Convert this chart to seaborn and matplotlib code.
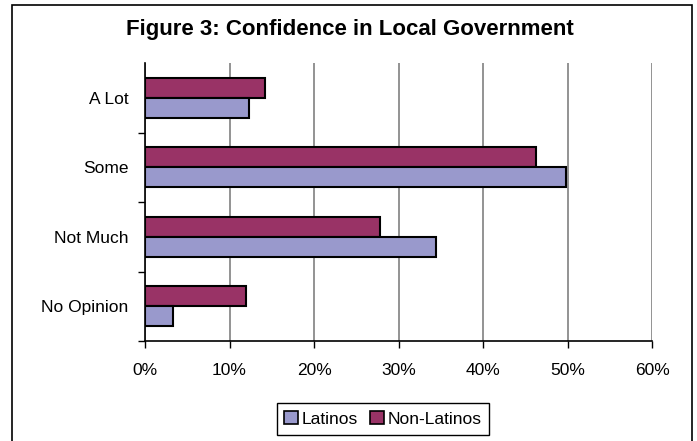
import matplotlib
matplotlib.use("Agg")
import matplotlib.pyplot as plt
from matplotlib.patches import Rectangle, Patch
from matplotlib.ticker import FixedLocator, PercentFormatter
import pandas as pd
import seaborn as sb

categories = ["A Lot", "Some", "Not Much", "No Opinion"]
latinos = [12.3, 49.8, 34.4, 3.3]
non_latinos = [14.2, 46.3, 27.8, 12.0]
groups = ["Non-Latinos", "Latinos"]
xticks = [0, 10, 20, 30, 40, 50, 60]

colors = {"Latinos": "#9999CC", "Non-Latinos": "#993366"}

sb.set_style("white")
plt.rcParams["font.family"] = ["Liberation Sans", "DejaVu Sans"]
plt.rcParams["text.color"] = "black"
plt.rcParams["xtick.labelcolor"] = "black"
plt.rcParams["ytick.labelcolor"] = "black"

df = pd.DataFrame({"category": categories * 2,
                   "group": ["Latinos"] * 4 + ["Non-Latinos"] * 4,
                   "pct": latinos + non_latinos})

fig = plt.figure(figsize=(6.97, 4.41), dpi=100)
ax = fig.add_axes([145 / 697, 1 - 341 / 441, (652 - 145) / 697, (341 - 63) / 441])

sb.barplot(data=df, x="pct", y="category", hue="group", order=categories,
           hue_order=groups, palette=colors, orient="h", width=0.575,
           saturation=1, edgecolor="black", linewidth=1.5, ax=ax)
ax.get_legend().remove()

ax.set_xlim(0, 60)
ax.set_ylim(3.5, -0.5)
ax.xaxis.set_major_locator(FixedLocator(xticks))
ax.xaxis.set_major_formatter(PercentFormatter(decimals=0))
ax.grid(axis="x", color="#808080", linewidth=1.2)
ax.set_axisbelow(True)
ax.set_xlabel("")
ax.set_ylabel("")

for s in ["top", "right"]:
    ax.spines[s].set_visible(False)
for s in ["left", "bottom"]:
    ax.spines[s].set_color("black")
    ax.spines[s].set_linewidth(1.2)

ax.yaxis.set_minor_locator(FixedLocator([0.5, 1.5, 2.5, 3.5]))
ax.tick_params(axis="y", which="major", length=0, pad=12, labelsize=12.5,
               labelcolor="black")
ax.tick_params(axis="y", which="minor", left=True, length=5, width=1, color="black")
ax.tick_params(axis="x", which="major", bottom=True, length=5, width=1, color="black",
               pad=10.5, labelsize=12.5, labelcolor="black")

fig.text(0.502, 0.932, "Figure 3: Confidence in Local Government",
         ha="center", va="center", fontsize=16, fontweight="bold", color="black")

handles = [Patch(facecolor=colors[g], edgecolor="black", linewidth=1.2)
           for g in ["Latinos", "Non-Latinos"]]
fig.legend(handles, ["Latinos", "Non-Latinos"], loc="center",
           bbox_to_anchor=(383 / 697, 1 - 419 / 441), ncol=2, frameon=True,
           fancybox=False, edgecolor="black", fontsize=12.5, handlelength=0.8,
           handleheight=0.8, handletextpad=0.2, columnspacing=0.7,
           borderpad=0.45, framealpha=1, labelcolor="black")

fig.patches.append(Rectangle((12 / 697, -0.02), (692 - 12) / 697, 1.02 - 5 / 441,
                             transform=fig.transFigure, fill=False,
                             edgecolor="black", linewidth=1.2))

plt.savefig("out.png", dpi=100)
plt.close()
